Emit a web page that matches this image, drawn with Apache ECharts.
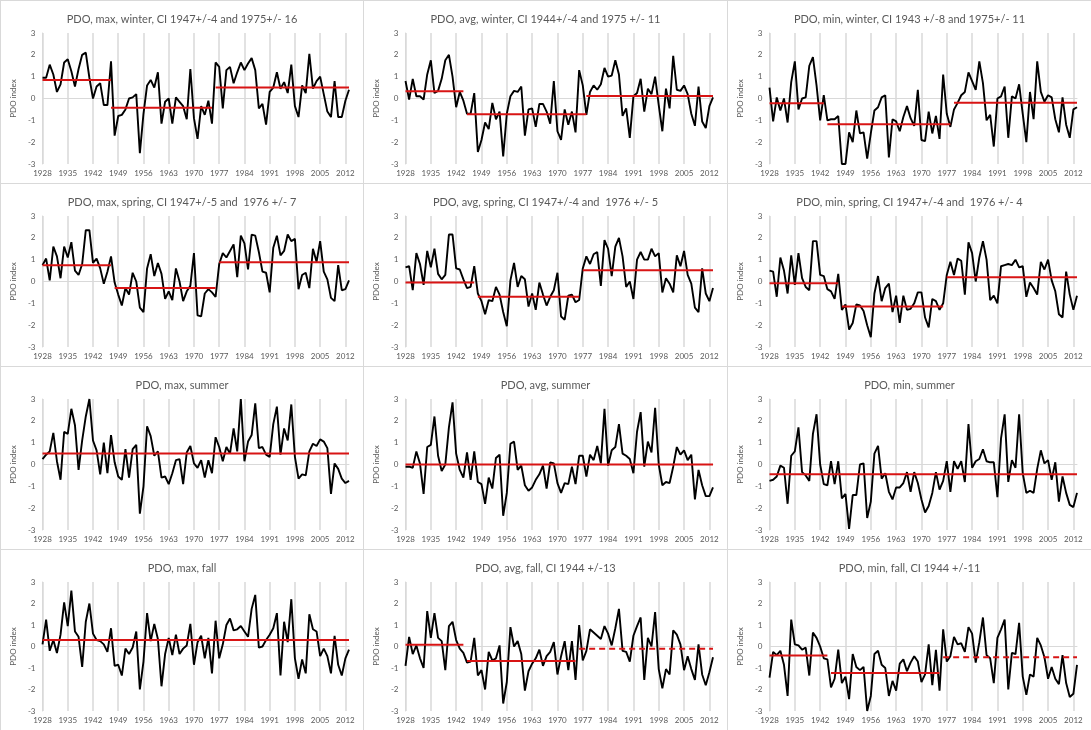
<!DOCTYPE html>
<html>
<head>
<meta charset="utf-8">
<script src="https://cdn.jsdelivr.net/npm/echarts@6/dist/echarts.min.js"></script>
<style>
    body { margin: 0; background: #fff; }
    #wrap { position: relative; width: 1091px; height: 730px; overflow: hidden; }
    .panel { position: absolute; box-sizing: border-box; border: 1px solid #d9d9d9; background: #fff; }
</style>
</head>
<body>
<div id="wrap"></div>
<script>
// years 1928..2013
var years = [];
for (var y = 1928; y <= 2013; y++) years.push(String(y));

// winter
var maxWinter = [0.95,0.95,1.55,1.1,0.3,0.65,1.65,1.8,1.25,0.55,1.35,2.0,2.1,0.95,0.0,0.55,0.7,-0.3,-0.3,1.7,
    -1.7,-0.8,-0.75,-0.5,0.0,0.05,0.2,-2.5,-0.7,0.6,0.85,0.5,1.2,-1.15,-0.15,0.0,-1.15,0.05,-0.15,-0.35,
    -0.95,1.35,-0.9,-1.85,-0.35,-0.75,-0.1,-1.15,1.65,1.45,-0.45,1.3,1.45,0.7,1.2,1.65,1.3,1.6,1.85,1.3,
    -0.45,-0.25,-1.2,0.3,0.5,1.2,0.45,0.75,0.25,1.55,-0.35,-0.85,0.6,0.25,2.05,0.45,0.8,1.0,0.2,-0.6,
    -0.85,0.8,-0.85,-0.85,-0.1,0.4];
var avgWinter = [0.8,-0.05,0.9,0.1,0.1,-0.05,1.1,1.75,0.25,0.35,0.9,1.75,2.0,1.0,-0.4,0.3,-0.1,-0.7,-0.7,0.25,
    -2.45,-1.9,-1.1,-1.4,-0.2,-0.95,-0.6,-2.65,-0.7,0.1,0.35,0.3,0.55,-1.7,-0.5,-0.45,-1.3,-0.25,-0.25,-0.6,
    -1.15,0.8,-1.5,-1.9,-0.5,-1.2,-0.6,-1.55,1.3,0.6,-0.75,0.3,0.6,0.4,0.65,1.4,1.0,1.05,1.75,1.1,
    -0.8,-0.45,-1.8,0.1,0.25,0.9,-0.6,0.45,0.2,1.0,-0.3,-1.5,0.45,-0.45,1.95,0.4,0.35,0.6,0.2,-0.7,
    -1.25,0.55,-1.05,-1.35,-0.35,0.05];
var minWinter = [0.5,-1.05,0.05,-0.55,0.0,-1.1,0.75,1.7,-0.5,0.0,0.05,1.5,1.9,0.6,-1.0,0.15,-1.0,-0.95,-0.95,-0.8,
    -3.0,-3.0,-1.55,-2.0,-0.55,-1.6,-1.55,-2.75,-1.6,-0.55,-0.4,0.05,0.15,-2.7,-0.95,-1.05,-1.5,-0.85,-0.35,-0.9,
    -1.25,0.4,-1.9,-1.95,-0.6,-1.6,-0.8,-1.85,1.1,-0.7,-1.3,-0.5,-0.2,0.15,0.3,1.2,0.8,0.4,1.7,0.7,
    -1.0,-0.75,-2.2,0.0,0.1,0.55,-1.8,0.1,0.0,0.65,-0.7,-2.0,0.3,-0.95,1.7,0.3,-0.15,0.15,0.05,-0.95,
    -1.55,0.05,-1.2,-1.8,-0.5,-0.4];

// spring
var maxSpring = [0.75,1.05,0.05,1.6,1.15,0.15,1.6,1.1,1.8,0.5,0.3,0.8,2.35,2.35,0.85,1.05,0.6,-0.1,0.45,1.15,
    -0.05,-0.6,-1.1,-0.3,-0.6,0.4,0.0,-1.2,-1.4,0.6,1.25,0.25,0.85,0.35,-0.8,-0.45,-0.85,0.6,0.0,-0.9,
    -0.45,-0.2,1.3,-1.55,-1.6,-0.55,-0.35,-0.5,-0.7,0.8,1.3,1.1,1.4,1.7,0.2,2.1,1.75,0.55,2.15,2.1,
    1.35,0.45,0.4,-0.5,1.55,2.1,1.2,1.4,2.15,1.85,1.95,-0.35,0.3,0.4,-0.3,1.5,0.9,1.85,0.45,0.1,
    -0.75,-0.9,0.75,-0.4,-0.35,0.05];
var avgSpring = [0.65,0.7,-0.4,1.3,0.8,-0.15,1.4,0.65,1.5,0.35,0.1,0.3,2.15,2.15,0.6,0.55,0.1,-0.3,-0.25,0.7,
    -0.55,-0.9,-1.5,-0.85,-0.9,-0.25,-0.6,-1.4,-2.05,0.05,0.85,-0.25,0.25,0.1,-1.15,-0.55,-1.3,-0.05,-0.6,-1.1,
    -0.7,-0.4,0.4,-1.6,-1.75,-0.65,-0.6,-0.95,-0.85,0.6,1.15,0.8,1.25,1.35,-0.2,1.9,1.5,0.25,1.6,2.0,
    1.15,-0.25,0.0,-0.8,1.0,1.35,1.0,1.0,1.5,1.15,1.3,-0.5,0.15,-0.1,-0.5,1.2,0.7,1.4,0.3,-0.1,
    -1.2,-1.4,0.6,-0.55,-0.9,-0.3];
var minSpring = [0.5,0.45,-0.7,1.1,0.5,-0.55,1.2,-0.15,1.3,0.15,-0.25,-0.4,1.85,1.85,0.3,0.25,-0.35,-0.45,-0.8,0.35,
    -1.3,-1.05,-2.2,-1.9,-1.05,-1.1,-1.35,-2.0,-2.55,-0.55,0.25,-0.9,-0.3,-0.1,-1.4,-0.65,-1.9,-0.65,-1.3,-1.25,
    -1.0,-0.5,-0.5,-1.65,-2.1,-0.8,-0.9,-1.3,-1.0,0.3,0.9,0.3,1.05,0.95,-0.6,1.8,1.3,0.0,1.1,1.85,
    1.0,-0.85,-0.65,-1.0,0.7,0.75,0.8,0.75,1.0,0.65,0.7,-0.7,-0.05,-0.3,-0.6,0.9,0.55,1.0,0.05,-0.45,
    -1.5,-1.65,0.45,-0.6,-1.3,-0.65];

// summer
var maxSummer = [0.25,0.45,0.6,1.45,0.15,-0.7,1.5,1.4,2.55,1.8,-0.25,1.1,2.2,3.0,1.1,0.65,-0.45,1.0,-0.4,1.35,
    0.1,-0.55,-0.7,0.7,-0.6,0.7,0.9,-2.25,-1.0,1.75,1.3,0.4,0.6,-0.6,-0.55,-0.9,-0.4,0.2,0.25,-0.9,
    0.55,0.85,0.05,-0.15,0.2,-0.6,0.2,-0.4,1.25,0.8,0.15,0.8,0.5,1.65,0.6,3.0,0.15,1.05,1.35,2.8,
    0.75,0.8,0.45,0.35,1.85,2.65,0.45,1.65,1.1,2.75,0.35,-0.65,-0.45,-0.5,0.6,0.95,0.85,1.15,1.05,0.75,
    -1.35,0.05,-0.2,-0.65,-0.85,-0.75];
var avgSummer = [-0.1,-0.1,-0.15,0.6,0.05,-1.35,0.8,0.9,2.2,0.4,-0.3,0.0,1.7,2.85,0.5,-0.25,-0.6,0.55,-0.7,0.6,
    -0.8,-0.9,-1.8,-0.6,-1.1,0.3,0.45,-2.35,-1.3,0.95,1.05,-0.25,-0.05,-0.95,-1.2,-1.05,-0.7,-0.45,-0.05,-1.1,
    0.1,0.05,-0.85,-1.3,-0.85,-0.9,-0.1,-0.9,0.4,0.4,-0.55,0.45,0.2,0.85,0.05,2.55,-0.05,0.65,0.8,1.85,
    0.5,0.4,0.25,-0.4,1.5,2.4,-0.1,1.05,0.55,2.6,0.0,-0.95,-0.8,-0.85,-0.1,0.8,0.45,0.65,0.2,0.45,
    -1.6,-0.25,-0.95,-1.45,-1.45,-1.05];
var minSummer = [-0.75,-0.7,-0.55,-0.05,-0.15,-1.8,0.4,0.6,1.7,-0.35,-0.5,-0.75,1.4,2.3,0.0,-0.9,-0.95,0.15,-0.9,0.15,
    -1.55,-1.35,-2.95,-1.4,-1.4,0.0,0.05,-2.45,-1.7,0.5,0.85,-0.65,-0.4,-1.25,-1.6,-1.05,-1.05,-0.85,-0.35,-1.25,
    -0.35,-0.85,-1.6,-2.2,-1.9,-1.3,-0.35,-1.15,-0.75,0.15,-1.25,0.15,-0.2,0.15,-0.8,1.85,-0.15,0.15,0.25,0.7,
    0.15,0.1,0.1,-1.5,1.2,2.3,-0.8,0.2,-0.15,2.3,-0.4,-1.3,-1.2,-1.3,-0.2,0.65,0.05,0.2,-0.7,0.1,
    -1.7,-0.55,-1.3,-1.85,-1.95,-1.3];

// fall
var maxFall = [0.1,1.25,-0.2,0.3,-0.3,0.55,2.05,0.95,2.6,0.7,0.45,-0.95,1.15,2.0,0.6,0.3,0.25,0.1,-0.25,0.85,
    -0.9,-0.85,-1.35,-0.1,-0.35,-0.05,0.7,-2.0,-0.7,1.55,0.25,1.05,0.35,-1.85,-0.35,0.4,-0.4,0.55,-0.35,-0.1,
    0.05,1.05,-0.85,0.2,0.5,-0.55,0.4,-1.25,1.2,-0.55,0.1,1.0,1.3,0.75,0.8,0.95,0.7,0.45,1.75,2.4,
    -0.05,0.0,0.3,0.55,0.85,1.55,-1.35,1.15,0.2,2.2,-0.55,-1.5,-0.6,-1.25,1.5,0.8,0.7,-0.45,-0.1,-0.45,
    -1.25,0.5,-0.85,-1.35,-0.55,-0.15];
var avgFall = [-0.9,0.45,-0.35,0.05,-0.55,-1.0,1.65,0.4,1.55,0.4,0.25,-1.1,0.95,1.15,0.3,-0.1,-0.3,-0.75,-0.7,0.4,
    -1.35,-1.1,-2.0,-0.25,-0.65,-0.55,0.05,-2.65,-1.65,0.9,0.0,0.25,-0.35,-2.05,-1.15,-0.8,-0.55,-0.15,-0.9,-0.45,
    -0.25,0.2,-1.3,-0.45,0.25,-1.1,0.25,-1.55,1.0,-0.65,-0.2,0.8,0.65,0.5,0.35,0.95,0.6,0.05,0.85,1.75,
    -0.2,-0.25,-0.7,0.5,0.95,1.35,-1.55,0.4,0.0,1.6,-1.05,-1.95,-1.05,-1.3,0.75,0.55,0.1,-1.1,-0.45,-1.05,
    -1.55,0.1,-1.3,-1.8,-1.2,-0.5];
var minFall = [-1.45,-0.25,-0.4,-0.2,-0.85,-2.3,1.25,0.1,0.05,-0.15,-0.05,-1.35,0.65,0.4,0.0,-0.55,-0.6,-1.9,-1.5,-0.15,
    -1.7,-1.4,-2.45,-0.35,-0.95,-1.1,-0.95,-3.0,-2.3,-0.35,-0.2,-0.85,-1.0,-2.3,-1.6,-2.05,-0.8,-0.6,-1.15,-0.75,
    -0.45,-0.7,-1.65,-1.3,0.1,-1.8,-0.15,-2.05,0.8,-0.7,-0.45,0.45,0.1,0.15,-0.25,0.9,0.6,-0.75,0.2,1.35,
    -0.4,-0.55,-1.7,0.4,0.8,1.25,-2.0,-0.3,-0.35,1.1,-1.4,-2.25,-1.3,-1.4,0.4,0.05,-0.5,-1.5,-0.95,-1.5,
    -1.75,-0.4,-1.7,-2.35,-2.2,-0.85];

// regime means: [from year, to year, mean, dashed]
var maxWinterMeans = [[1928,1947,0.85],[1947,1975,-0.42],[1976,2013,0.5]];
var avgWinterMeans = [[1928,1944,0.33],[1945,1978,-0.72],[1978,2013,0.12]];
var minWinterMeans = [[1928,1943,-0.22],[1944,1978,-1.18],[1979,2013,-0.2]];
var maxSpringMeans = [[1928,1947,0.75],[1948,1976,-0.3],[1977,2013,0.88]];
var avgSpringMeans = [[1928,1947,-0.05],[1948,1976,-0.7],[1977,2013,0.52]];
var minSpringMeans = [[1928,1947,-0.08],[1948,1976,-1.15],[1977,2013,0.2]];
var maxSummerMeans = [[1928,2013,0.5]];
var avgSummerMeans = [[1928,2013,0.0]];
var minSummerMeans = [[1928,2013,-0.45]];
var maxFallMeans = [[1928,2013,0.3]];
var avgFallMeans = [[1928,1944,0.08],[1945,1975,-0.68],[1976,2013,-0.1,true]];
var minFallMeans = [[1928,1944,-0.42],[1945,1975,-1.23],[1976,2013,-0.5,true]];

var panels = [
    ['PDO, max, winter, CI 1947+/-4 and 1975+/- 16', maxWinter, maxWinterMeans],
    ['PDO, avg, winter, CI 1944+/-4 and 1975 +/- 11', avgWinter, avgWinterMeans],
    ['PDO, min, winter, CI 1943 +/-8 and 1975+/- 11', minWinter, minWinterMeans],
    ['PDO, max, spring, CI 1947+/-5 and  1976 +/- 7', maxSpring, maxSpringMeans],
    ['PDO, avg, spring, CI 1947+/-4 and  1976 +/- 5', avgSpring, avgSpringMeans],
    ['PDO, min, spring, CI 1947+/-4 and  1976 +/- 4', minSpring, minSpringMeans],
    ['PDO, max, summer', maxSummer, maxSummerMeans],
    ['PDO, avg, summer', avgSummer, avgSummerMeans],
    ['PDO, min, summer', minSummer, minSummerMeans],
    ['PDO, max, fall', maxFall, maxFallMeans],
    ['PDO, avg, fall, CI 1944 +/-13', avgFall, avgFallMeans],
    ['PDO, min, fall, CI 1944 +/-11', minFall, minFallMeans]
];

var colX = [0, 363, 727, 1091];
var rowY = [0, 183, 366, 549, 730];
var font = 'Lato, "Open Sans", sans-serif';
var wrap = document.getElementById('wrap');

panels.forEach(function (p, i) {
    var c = i % 3, r = Math.floor(i / 3);
    var div = document.createElement('div');
    div.className = 'panel';
    div.style.left = colX[c] + 'px';
    div.style.top = rowY[r] + 'px';
    div.style.width = (colX[c + 1] - colX[c] + 1) + 'px';
    div.style.height = (rowY[r + 1] - rowY[r] + 1) + 'px';
    wrap.appendChild(div);

    var series = [{
        type: 'line',
        data: p[1],
        symbol: 'none',
        lineStyle: { color: '#000', width: 1.9 },
        z: 2
    }];
    p[2].forEach(function (m) {
        series.push({
            type: 'line',
            data: [[m[0] - 1928, m[2]], [m[1] - 1928, m[2]]],
            symbol: 'none',
            lineStyle: { color: '#d81414', width: 2, type: m[3] ? [6, 4] : 'solid' },
            z: 3
        });
    });

    var chart = echarts.init(div, null, { renderer: 'canvas' });
    chart.setOption({
        animation: false,
        title: {
            text: p[0],
            left: 'center',
            top: 8,
            textStyle: { fontFamily: font, fontSize: 11, fontWeight: 'normal', color: '#595959' }
        },
        grid: { left: 39, right: 14, top: 32, bottom: 19 },
        xAxis: {
            type: 'category',
            data: years,
            boundaryGap: false,
            axisLine: { lineStyle: { color: '#d9d9d9', width: 1 } },
            axisTick: { show: false },
            axisLabel: { interval: 6, fontFamily: font, fontSize: 8, color: '#595959', margin: 5 },
            splitLine: { show: true, interval: 6, lineStyle: { color: '#d9d9d9', width: 1.5 } }
        },
        yAxis: {
            type: 'value',
            min: -3,
            max: 3,
            interval: 1,
            name: 'PDO index',
            nameLocation: 'middle',
            nameGap: 19,
            nameTextStyle: { fontFamily: font, fontSize: 8, color: '#595959' },
            axisLine: { show: true, lineStyle: { color: '#d9d9d9' } },
            axisTick: { show: false },
            axisLabel: { fontFamily: font, fontSize: 8, color: '#595959', margin: 7 },
            splitLine: { show: false }
        },
        series: series
    });
});
</script>
</body>
</html>
